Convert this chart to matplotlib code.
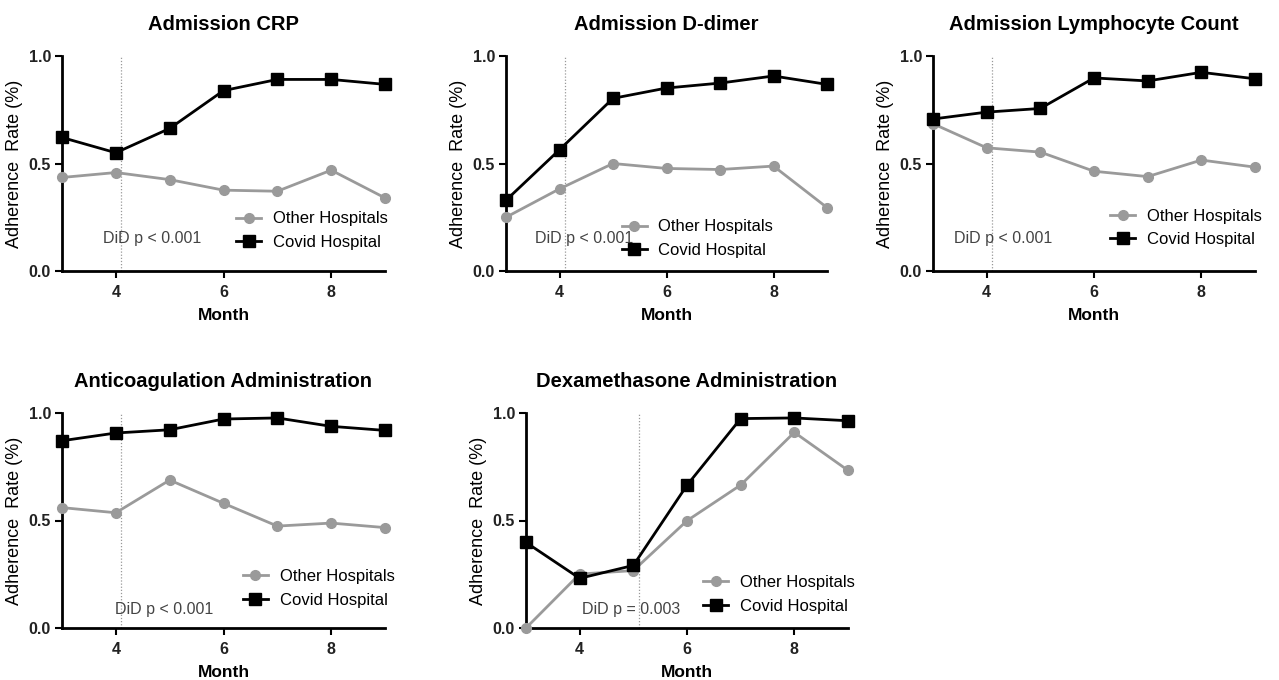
import matplotlib
matplotlib.use("Agg")
import matplotlib.pyplot as plt
from matplotlib.ticker import FormatStrFormatter

plt.rcParams['font.family'] = ['Liberation Sans', 'DejaVu Sans']

months = [3, 4, 5, 6, 7, 8, 9]

titles = ["Admission CRP", "Admission D-dimer", "Admission Lymphocyte Count",
          "Anticoagulation Administration", "Dexamethasone Administration"]

covid_crp = [0.621, 0.550, 0.663, 0.839, 0.891, 0.891, 0.868]
other_crp = [0.435, 0.458, 0.425, 0.376, 0.371, 0.469, 0.340]

covid_ddimer = [0.329, 0.564, 0.803, 0.851, 0.874, 0.907, 0.868]
other_ddimer = [0.250, 0.382, 0.500, 0.477, 0.472, 0.488, 0.295]

covid_lymph = [0.707, 0.739, 0.756, 0.898, 0.884, 0.924, 0.894]
other_lymph = [0.685, 0.573, 0.553, 0.464, 0.439, 0.516, 0.483]

covid_anticoag = [0.871, 0.907, 0.922, 0.972, 0.977, 0.938, 0.919]
other_anticoag = [0.560, 0.536, 0.688, 0.580, 0.474, 0.488, 0.467]

covid_dexa = [0.398, 0.231, 0.291, 0.664, 0.974, 0.977, 0.964]
other_dexa = [0.000, 0.251, 0.267, 0.499, 0.665, 0.910, 0.733]

covid_series = [covid_crp, covid_ddimer, covid_lymph, covid_anticoag, covid_dexa]
other_series = [other_crp, other_ddimer, other_lymph, other_anticoag, other_dexa]

intervention = [4.1, 4.1, 4.1, 4.1, 5.1]
did_labels = ["DiD p < 0.001", "DiD p < 0.001", "DiD p < 0.001",
              "DiD p < 0.001", "DiD p = 0.003"]

W, H = 1279, 680
fig = plt.figure(figsize=(W / 100, H / 100), dpi=100)

# axes boxes in pixels: (left, right, top, bottom)
boxes = [(62, 385, 56, 271), (506, 827, 56, 271), (933, 1255, 56, 271),
         (62, 385, 413, 628), (526, 848, 413, 628)]
legend_pos = [(0.54, 0.188), (0.36, 0.151), (0.55, 0.20), (0.56, 0.184), (0.55, 0.156)]
did_pos = [(0.127, 0.149), (0.09, 0.153), (0.065, 0.153), (0.164, 0.084), (0.174, 0.088)]

gray = "#9a9a9a"
for i in range(5):
    l, r, t, b = boxes[i]
    ax = fig.add_axes([l / W, 1 - b / H, (r - l) / W, (b - t) / H])
    ax.plot(months, other_series[i], color=gray, lw=2, marker='o', ms=7,
            label="Other Hospitals", clip_on=False, zorder=3)
    ax.plot(months, covid_series[i], color='black', lw=2, marker='s', ms=8,
            label="Covid Hospital", clip_on=False, zorder=4)
    ax.axvline(intervention[i], ymin=0, ymax=1, color='#999999', lw=0.9,
               ls=(0, (1, 1.5)), zorder=1)
    ax.set_xlim(3, 9)
    ax.set_ylim(0, 1)
    ax.set_xticks([4, 6, 8])
    ax.set_yticks([0, 0.5, 1.0])
    ax.yaxis.set_major_formatter(FormatStrFormatter('%.1f'))
    for s in ['top', 'right']:
        ax.spines[s].set_visible(False)
    for s in ['left', 'bottom']:
        ax.spines[s].set_linewidth(2)
    ax.tick_params(axis='both', direction='out', length=5, width=1.5,
                   labelsize=11.5, pad=3)
    ax.tick_params(axis='x', pad=5)
    for lab in ax.get_xticklabels() + ax.get_yticklabels():
        lab.set_fontweight('bold')
        lab.set_color('#222222')
    ax.set_title(titles[i], fontsize=14.5, fontweight='bold', pad=19)
    ax.set_xlabel("Month", fontsize=12.5, fontweight='bold', labelpad=6)
    ax.set_ylabel("Adherence  Rate (%)", fontsize=13, labelpad=4)
    leg = ax.legend(loc='center left', bbox_to_anchor=legend_pos[i], frameon=False,
                    fontsize=12, handlelength=1.5, handletextpad=0.7,
                    labelspacing=0.5, borderpad=0, borderaxespad=0)
    ax.text(did_pos[i][0], did_pos[i][1], did_labels[i], transform=ax.transAxes,
            fontsize=11.5, color='#444444', va='center', ha='left')

fig.savefig("out.png", dpi=100)
